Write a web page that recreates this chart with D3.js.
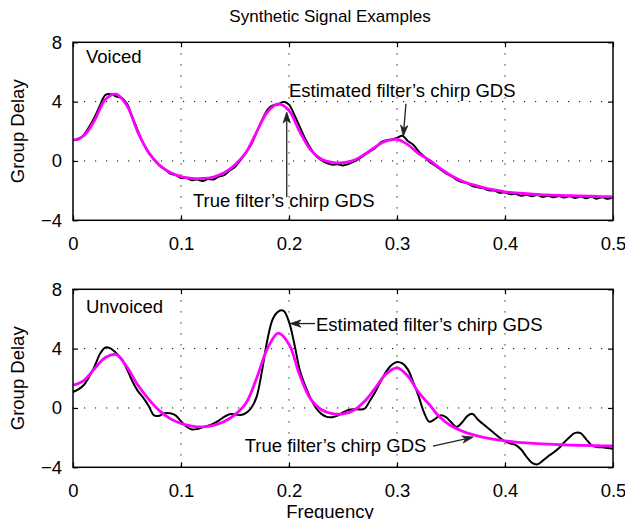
<!DOCTYPE html>
<html><head><meta charset="utf-8">
<script src="https://cdn.jsdelivr.net/npm/d3@7"></script>
<style>
body{margin:0;background:#fff;}
svg{display:block;font-family:"Liberation Sans",Arial,Helvetica,sans-serif;}
</style></head><body>
<svg id="chart" width="625" height="519"></svg>
<script>
// ---------- DATA ----------
const freqCoarse = [0,0.01,0.02,0.03,0.04,0.05,0.06,0.07,0.08,0.09,0.10,0.11,0.12,0.13,0.14,0.15,0.16,0.17,0.18,0.19,0.20,0.21,0.22,0.23,0.24,0.25,0.26,0.27,0.28,0.29,0.30,0.31,0.32,0.33,0.34,0.35,0.36,0.37,0.38,0.39,0.40,0.41,0.42,0.43,0.44,0.45,0.46,0.47,0.48,0.49,0.50];
const freqFine = [0,0.005,0.01,0.015,0.02,0.025,0.03,0.035,0.04,0.045,0.05,0.055,0.06,0.065,0.07,0.075,0.08,0.085,0.09,0.095,0.10,0.105,0.11,0.115,0.12,0.125,0.13,0.135,0.14,0.145,0.15,0.155,0.16,0.165,0.17,0.175,0.18,0.185,0.19,0.195,0.20,0.205,0.21,0.215,0.22,0.225,0.23,0.235,0.24,0.245,0.25,0.255,0.26,0.265,0.27,0.275,0.28,0.285,0.29,0.295,0.30,0.305,0.31,0.315,0.32,0.325,0.33,0.335,0.34,0.345,0.35,0.355,0.36,0.365,0.37,0.375,0.38,0.385,0.39,0.395,0.40,0.405,0.41,0.415,0.42,0.425,0.43,0.435,0.44,0.445,0.45,0.455,0.46,0.465,0.47,0.475,0.48,0.485,0.49,0.495,0.50];

// Voiced: true filter's chirp GDS (magenta)
const voicedTrue = [1.40,1.70,2.75,4.15,4.50,3.72,1.95,0.58,-0.28,-0.78,-1.05,-1.17,-1.18,-1.08,-0.80,-0.25,0.55,1.95,3.30,3.85,3.40,1.96,0.75,0.12,-0.10,-0.12,0.05,0.45,0.95,1.35,1.45,1.10,0.50,0.05,-0.50,-0.98,-1.35,-1.60,-1.80,-1.95,-2.08,-2.15,-2.21,-2.26,-2.29,-2.32,-2.34,-2.36,-2.38,-2.40,-2.42];
// Voiced: estimated filter's chirp GDS (black)
const voicedEst = [1.40,1.45,1.75,2.30,2.95,3.75,4.45,4.50,4.35,4.25,3.85,2.95,2.05,1.20,0.55,0.10,-0.30,-0.55,-0.85,-0.95,-1.15,-1.15,-1.30,-1.25,-1.35,-1.22,-1.25,-1.05,-0.95,-0.65,-0.40,0.05,0.55,1.10,1.95,2.75,3.45,3.75,3.80,4.00,3.80,3.10,2.30,1.50,0.85,0.35,0.05,-0.15,-0.25,-0.22,-0.30,-0.20,-0.05,0.15,0.40,0.65,0.90,1.25,1.40,1.45,1.55,1.70,1.35,1.10,0.65,0.30,-0.05,-0.30,-0.55,-0.82,-1.00,-1.25,-1.42,-1.50,-1.70,-1.78,-1.85,-1.98,-2.00,-2.15,-2.12,-2.25,-2.22,-2.35,-2.28,-2.38,-2.30,-2.42,-2.34,-2.45,-2.36,-2.47,-2.38,-2.50,-2.40,-2.52,-2.42,-2.54,-2.44,-2.55,-2.45];

// Unvoiced: true filter's chirp GDS (magenta)
const unvoicedTrue = [1.53,1.85,2.65,3.40,3.60,2.75,1.55,0.60,-0.18,-0.72,-1.05,-1.22,-1.28,-1.18,-0.92,-0.45,0.30,2.00,4.00,5.05,4.30,2.20,0.60,-0.12,-0.38,-0.40,-0.15,0.45,1.35,2.30,2.70,2.15,1.05,0.22,-0.65,-1.20,-1.55,-1.80,-1.98,-2.12,-2.22,-2.30,-2.36,-2.40,-2.44,-2.47,-2.50,-2.52,-2.54,-2.55,-2.56];
// Unvoiced: estimated filter's chirp GDS (black)
const unvoicedEst = [1.08,1.25,1.55,2.10,2.80,3.65,4.08,4.00,3.70,3.30,2.60,1.80,1.15,0.70,0.15,-0.50,-0.52,-0.35,-0.36,-0.50,-0.90,-1.25,-1.45,-1.42,-1.30,-1.20,-1.05,-0.85,-0.60,-0.42,-0.43,-0.48,-0.35,0.00,0.75,2.50,4.60,6.00,6.50,6.55,5.80,4.30,2.55,1.50,0.65,0.00,-0.40,-0.60,-0.62,-0.52,-0.30,-0.14,-0.08,-0.10,-0.05,0.50,1.10,1.80,2.45,2.90,3.10,3.00,2.60,1.75,0.80,-0.30,-0.93,-0.75,-0.50,-0.60,-0.95,-1.28,-1.00,-0.55,-0.40,-0.80,-1.10,-1.40,-1.70,-2.00,-2.25,-2.40,-2.50,-2.80,-3.30,-3.70,-3.80,-3.55,-3.25,-3.00,-2.70,-2.30,-1.95,-1.68,-1.70,-2.10,-2.50,-2.63,-2.65,-2.70,-2.75];

const xTicks = [0,0.1,0.2,0.3,0.4,0.5];
const xTickLabels = ["0","0.1","0.2","0.3","0.4","0.5"];
const yTicks = [-4,0,4,8];
const yTickLabels = ["\u22124","0","4","8"];

const titleText = "Synthetic Signal Examples";
const xLabelText = "Frequency";
const yLabelText = "Group Delay";
const panelNames = ["Voiced","Unvoiced"];
const estLabel = "Estimated filter\u2019s chirp GDS";
const trueLabel = "True filter\u2019s chirp GDS";

// annotations in data coordinates: text anchor, arrow tail, arrow tip
const voicedNotes = [
  {text: estLabel,  tx: 0.200, ty: 4.29, from: [0.3083, 3.85], to: [0.3058, 1.66]},
  {text: trueLabel, tx: 0.111, ty: -3.12, from: [0.1979, -2.45], to: [0.1979, 3.30]}
];
const unvoicedNotes = [
  {text: estLabel,  tx: 0.225, ty: 5.17, from: [0.2240, 5.69], to: [0.2009, 5.69]},
  {text: trueLabel, tx: 0.159, ty: -2.99, from: [0.3333, -2.58], to: [0.3706, -1.96]}
];

// ---------- LAYOUT ----------
const svg = d3.select("#chart");
const W = 625, H = 519;
const left = 73, right = 613;
const panelTops = [42.3, 289.3];
const panelH = 178;
const fontSize = 18.5;

svg.append("rect").attr("width", W).attr("height", H).attr("fill", "#fff");

const x = d3.scaleLinear().domain([0, 0.5]).range([left, right]);

const panels = [
  {name: panelNames[0], est: voicedEst, tru: voicedTrue, notes: voicedNotes},
  {name: panelNames[1], est: unvoicedEst, tru: unvoicedTrue, notes: unvoicedNotes}
];

const defs = svg.append("defs");

panels.forEach((p, i) => {
  const top = panelTops[i], bottom = top + panelH;
  const y = d3.scaleLinear().domain([-4, 8]).range([bottom, top]);
  const g = svg.append("g");

  // grid (dotted)
  g.selectAll(".vg").data(xTicks.filter(t => t > 0 && t < 0.5)).join("line")
    .attr("x1", d => x(d)).attr("x2", d => x(d)).attr("y1", top).attr("y2", bottom)
    .attr("stroke", "#000").attr("stroke-width", 1).attr("stroke-dasharray", "1.2,9.8");
  g.selectAll(".hg").data(yTicks.filter(t => t > -4 && t < 8)).join("line")
    .attr("x1", left).attr("x2", right).attr("y1", d => y(d)).attr("y2", d => y(d))
    .attr("stroke", "#000").attr("stroke-width", 1).attr("stroke-dasharray", "1.2,9.8");

  // curves
  const clipId = "clip" + i;
  defs.append("clipPath").attr("id", clipId).append("rect")
    .attr("x", left).attr("y", top).attr("width", right - left).attr("height", panelH);
  const line = d3.line().x(d => x(d[0])).y(d => y(d[1])).curve(d3.curveCatmullRom.alpha(0.5));
  g.append("path").datum(freqFine.map((f, k) => [f, p.est[k]]))
    .attr("d", line).attr("fill", "none").attr("stroke", "#000").attr("stroke-width", 2)
    .attr("stroke-linejoin", "round").attr("clip-path", `url(#${clipId})`);
  g.append("path").datum(freqCoarse.map((f, k) => [f, p.tru[k]]))
    .attr("d", line).attr("fill", "none").attr("stroke", "#ff00ff").attr("stroke-width", 2.8)
    .attr("stroke-linejoin", "round").attr("clip-path", `url(#${clipId})`);

  // axes with inward ticks on all four sides
  const ax = (gen) => gen.tickSizeInner(-5).tickSizeOuter(0).tickPadding(10);
  const gb = g.append("g").attr("transform", `translate(0,${bottom})`)
    .call(ax(d3.axisBottom(x).tickValues(xTicks).tickFormat((d, k) => xTickLabels[k])));
  const gt = g.append("g").attr("transform", `translate(0,${top})`)
    .call(ax(d3.axisTop(x).tickValues(xTicks).tickFormat("")));
  const gl = g.append("g").attr("transform", `translate(${left},0)`)
    .call(ax(d3.axisLeft(y).tickValues(yTicks).tickFormat((d, k) => yTickLabels[k])));
  const gr = g.append("g").attr("transform", `translate(${right},0)`)
    .call(ax(d3.axisRight(y).tickValues(yTicks).tickFormat("")));
  [gb, gt, gl, gr].forEach(a => {
    a.select(".domain").remove();
    a.selectAll(".tick line").attr("stroke", "#000").attr("stroke-width", 1.2);
    a.selectAll("text").attr("font-size", fontSize).attr("fill", "#000")
      .attr("font-family", "Liberation Sans, Arial, sans-serif");
  });
  gb.selectAll("text").attr("dy", "1.05em");
  gl.selectAll("text").attr("dx", "-0.05em");

  // box
  g.append("rect").attr("x", left).attr("y", top).attr("width", right - left).attr("height", panelH)
    .attr("fill", "none").attr("stroke", "#000").attr("stroke-width", 1.5);

  // panel label
  g.append("text").attr("x", x(0.012)).attr("y", y(i === 0 ? 6.59 : 6.38))
    .attr("font-size", fontSize).text(p.name);

  // annotations
  p.notes.forEach(n => {
    g.append("text").attr("x", x(n.tx)).attr("y", y(n.ty)).attr("font-size", fontSize).text(n.text);
    const x1 = x(n.from[0]), y1 = y(n.from[1]), x2 = x(n.to[0]), y2 = y(n.to[1]);
    const ang = Math.atan2(y2 - y1, x2 - x1);
    const L = 11, hw = 3.6, notch = 8;
    const ux = Math.cos(ang), uy = Math.sin(ang), px = -uy, py = ux;
    g.append("line").attr("x1", x1).attr("y1", y1)
      .attr("x2", x2 - ux * notch).attr("y2", y2 - uy * notch)
      .attr("stroke", "#222").attr("stroke-width", 1.3);
    const pts = [
      [x2, y2],
      [x2 - ux * L + px * hw, y2 - uy * L + py * hw],
      [x2 - ux * notch, y2 - uy * notch],
      [x2 - ux * L - px * hw, y2 - uy * L - py * hw]
    ];
    g.append("path").attr("d", "M" + pts.map(q => q.join(",")).join("L") + "Z")
      .attr("fill", "#222").attr("stroke", "#222").attr("stroke-width", 0.8).attr("stroke-linejoin", "miter");
  });
});

// y labels
panelTops.forEach(top => {
  svg.append("text").attr("transform", `translate(24,${top + panelH / 2}) rotate(-90)`)
    .attr("text-anchor", "middle").attr("font-size", fontSize).text(yLabelText);
});

// title and x label
svg.append("text").attr("x", 330).attr("y", 22).attr("text-anchor", "middle")
  .attr("font-size", 17).text(titleText);
svg.append("text").attr("x", 330).attr("y", 518).attr("text-anchor", "middle")
  .attr("font-size", fontSize).text(xLabelText);
</script>
</body></html>
